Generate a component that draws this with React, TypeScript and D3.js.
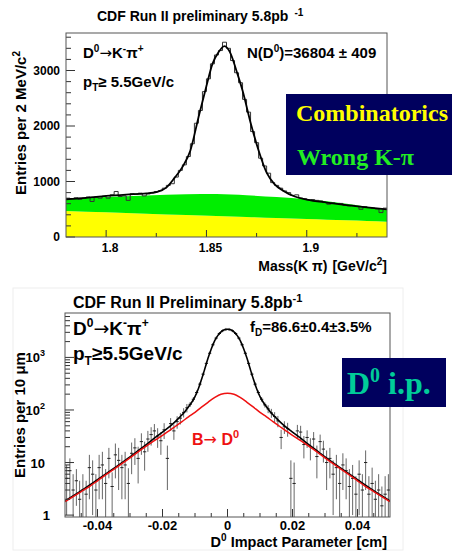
import React from 'react';
import * as d3 from 'd3';

// ---------------- Top panel: mass spectrum ----------------
const massBinStart = 1.78;
const massBinWidth = 0.002;
const massCounts = [
  700, 690, 705, 680, 700, 720, 640, 715, 700, 735,
  700, 760, 820, 730, 740, 660, 780, 770, 790, 740,
  775, 800, 820, 835, 880, 930, 960, 1080, 1200, 1300,
  1450, 1680, 2050, 2280, 2620, 2850, 3120, 3280, 3360, 3510,
  3400, 3180, 2960, 2780, 2480, 2250, 1900, 1700, 1420, 1280,
  1150, 980, 930, 880, 830, 800, 750, 760, 700, 690,
  670, 675, 660, 650, 620, 590, 615, 600, 605, 570,
  560, 570, 550, 500, 545, 530, 520, 505, 440, 520,
];
const massFitX = [1.78, 1.79, 1.80, 1.81, 1.82, 1.825, 1.83, 1.834, 1.838, 1.842, 1.846, 1.85, 1.853, 1.856, 1.859, 1.862, 1.865, 1.868, 1.872, 1.876, 1.88, 1.884, 1.888, 1.894, 1.90, 1.91, 1.92, 1.93, 1.94];
const massFitY = [680, 705, 740, 765, 785, 810, 890, 1060, 1260, 1560, 2150, 2720, 3120, 3330, 3440, 3310, 2990, 2640, 2060, 1560, 1160, 950, 840, 730, 675, 620, 575, 535, 498];
const bandX = [1.78, 1.80, 1.82, 1.84, 1.855, 1.87, 1.885, 1.90, 1.91, 1.92, 1.93, 1.94];
const wrongKpiTop = [683, 720, 750, 770, 775, 752, 720, 680, 645, 600, 545, 486];
const combinatoricsTop = [470, 446, 421, 397, 378, 360, 342, 324, 312, 300, 288, 276];
const massTicks = [1.8, 1.85, 1.9];
const massTickLabels = ['1.8', '1.85', '1.9'];
const massMinorTicks = [1.825, 1.875, 1.925];
const countTicks = [0, 1000, 2000, 3000];

// ---------------- Bottom panel: impact parameter ----------------
const ipBinStart = -0.05;
const ipBinWidth = 0.001;
const ipValues = [
  5, 7, 3, 4.5, 2, 3, 2.5, 8, 6, 3,
  8, 9, 4, 12, 3.5, 14, 11, 8, 9, 4,
  15, 19, 12, 25, 16, 28, 34, 40, 32, 26,
  42, 12, 55, 40, 60, 70, 90, 110,
  128, 160, 215, 310, 480, 770, 1200, 1740, 2330, 2850, 3220, 3420,
  3420, 3220, 2850, 2330, 1740, 1200, 770, 480, 310, 215, 160, 125,
  105, 88, 75, 62, 30, 48, 44, 5, 4, 40,
  38, 22, 30, 20, 28, 13, 25, 18, 10, 12,
  6, 8, 4, 9, 7, 3.5, 5, 2.5, 6, 3,
  10, 2.5, 4, 2, 3, 1.5, 2.5, 3,
];
const ipErrors = [
  4, 5, 3, 3, 2.5, 3, 2, 6, 5, 3,
  6, 7, 3.5, 7, 3, 9, 8, 6, 7, 3.8,
  9, 10, 8, 11, 9, 12, 13, 14, 13, 12,
  14, 9, 15, 13, 16, 17, 18, 20,
  14, 16, 20, 26, 38, 58, 85, 120, 160, 190, 210, 220,
  220, 210, 190, 160, 120, 85, 58, 38, 26, 20, 16, 14,
  18, 17, 16, 15, 12, 13, 13, 6, 6, 12,
  12, 10, 11, 9, 10, 8, 9, 8, 7, 7,
  5, 6, 4, 6, 5, 4, 4, 3, 5, 3,
  7, 3, 4, 2.5, 3, 2, 3, 3,
];
const ipFitX = [-0.05, -0.045, -0.04, -0.035, -0.03, -0.0275, -0.025, -0.0225, -0.02, -0.017, -0.015, -0.013, -0.012, -0.011, -0.010, -0.009, -0.008, -0.007, -0.006, -0.005, -0.004, -0.003, -0.002, -0.001, 0,
  0.001, 0.002, 0.003, 0.004, 0.005, 0.006, 0.007, 0.008, 0.009, 0.010, 0.011, 0.012, 0.013, 0.015, 0.017, 0.02, 0.0225, 0.025, 0.0275, 0.03, 0.035, 0.04, 0.045, 0.05];
const ipFitY = [1.85, 2.9, 4.7, 7.7, 12.8, 16.8, 22, 29, 38, 53, 70, 95, 115, 140, 180, 250, 380, 600, 960, 1450, 2050, 2600, 3050, 3350, 3445,
  3350, 3050, 2600, 2050, 1450, 960, 600, 380, 250, 180, 140, 115, 95, 70, 53, 38, 29, 22, 16.8, 12.8, 7.7, 4.7, 2.9, 1.85];
const bToDX = [-0.05, -0.0475, -0.045, -0.0425, -0.04, -0.0375, -0.035, -0.0325, -0.03, -0.0275, -0.025, -0.0225, -0.02, -0.018, -0.016, -0.014, -0.012, -0.01, -0.008, -0.006, -0.004, -0.002, 0,
  0.002, 0.004, 0.006, 0.008, 0.01, 0.012, 0.014, 0.016, 0.018, 0.02, 0.0225, 0.025, 0.0275, 0.03, 0.0325, 0.035, 0.0375, 0.04, 0.0425, 0.045, 0.0475, 0.05];
const bToDY = [1.8, 2.25, 2.8, 3.5, 4.5, 5.8, 7.4, 9.5, 12.3, 16, 20.5, 26, 33, 40, 49, 60, 74, 90, 113, 140, 172, 200, 208,
  200, 172, 140, 113, 90, 74, 60, 49, 40, 33, 26, 20.5, 16, 12.3, 9.5, 7.4, 5.8, 4.5, 3.5, 2.8, 2.25, 1.8];
const ipTicks = [-0.04, -0.02, 0, 0.02, 0.04];
const ipTickLabels = ['-0.04', '-0.02', '0', '0.02', '0.04'];
const ipMinorTicks = [-0.045, -0.035, -0.03, -0.025, -0.015, -0.01, -0.005, 0.005, 0.01, 0.015, 0.025, 0.03, 0.035, 0.045];
const logMajor = [1, 10, 100, 1000];
const logLabels = [['1', ''], ['10', ''], ['10', '2'], ['10', '3']];

const SANS = "'Liberation Sans', Arial, 'DejaVu Sans', sans-serif";
const SERIF = "'Liberation Serif', 'Times New Roman', serif";
const ARROW = "'DejaVu Sans', sans-serif";

function TopPanel() {
  const L = 66, R = 387, T = 33, B = 237;
  const x = d3.scaleLinear().domain([1.78, 1.94]).range([L, R]);
  const y = d3.scaleLinear().domain([0, 3676]).range([B, T]);
  const edges = massCounts.map((_, i) => massBinStart + i * massBinWidth);
  const stepPts: [number, number][] = massCounts.map((c, i) => [x(edges[i]), y(c)]);
  stepPts.push([x(massBinStart + massCounts.length * massBinWidth), y(massCounts[massCounts.length - 1])]);
  const step = d3.line().curve(d3.curveStepAfter)(stepPts) || '';
  const fit = d3.line<number>().x((_, i) => x(massFitX[i])).y((v) => y(v)).curve(d3.curveMonotoneX)(massFitY) || '';
  const yellow = d3.area<number>().x((_, i) => x(bandX[i])).y0(y(0)).y1((v) => y(v)).curve(d3.curveMonotoneX)(combinatoricsTop) || '';
  const green = d3.area<number>().x((_, i) => x(bandX[i])).y0((_, i) => y(combinatoricsTop[i])).y1((v) => y(v)).curve(d3.curveMonotoneX)(wrongKpiTop) || '';
  const minorY = d3.range(200, 3676, 200).filter((v) => v % 1000 !== 0);
  return (
    <g>
      <defs>
        <clipPath id="clipTop"><rect x={L} y={T} width={R - L} height={B - T} /></clipPath>
      </defs>
      <rect x={L} y={T} width={R - L} height={B - T} fill="#fff" />
      <g clipPath="url(#clipTop)">
        <path d={yellow} fill="#ffff00" />
        <path d={green} fill="#00ee00" />
        <path d={step} fill="none" stroke="#333" strokeWidth={1} />
        <path d={fit} fill="none" stroke="#000" strokeWidth={1.8} />
      </g>
      {countTicks.map((t) => (
        <line key={'yt' + t} x1={L} x2={L + 9} y1={y(t)} y2={y(t)} stroke="#333" />
      ))}
      {minorY.map((t) => (
        <line key={'ym' + t} x1={L} x2={L + 5} y1={y(t)} y2={y(t)} stroke="#333" />
      ))}
      {massTicks.map((t) => (
        <line key={'xt' + t} x1={x(t)} x2={x(t)} y1={B} y2={B - 7} stroke="#333" />
      ))}
      {massMinorTicks.map((t) => (
        <line key={'xm' + t} x1={x(t)} x2={x(t)} y1={B} y2={B - 4} stroke="#333" />
      ))}
      <rect x={L} y={T} width={R - L} height={B - T} fill="none" stroke="#555" strokeWidth={1} />
      {countTicks.map((t) => (
        <text key={'yl' + t} x={60} y={y(t) + 4} textAnchor="end" fontSize={12} fontWeight="bold" fontFamily={SANS}>{t}</text>
      ))}
      {massTicks.map((t, i) => (
        <text key={'xl' + t} x={x(t) + 4} y={252} textAnchor="middle" fontSize={12} fontWeight="bold" fontFamily={SANS}>{massTickLabels[i]}</text>
      ))}
      <text x={97} y={21} fontSize={14} fontWeight="bold" fontFamily={SANS}>
        CDF Run II preliminary 5.8pb<tspan dx={6} dy={-5} fontSize={10}>-1</tspan>
      </text>
      <text fontSize={15} fontWeight="bold" fontFamily={SANS} x={83} y={58}>
        D<tspan dy={-6} fontSize={10}>0</tspan><tspan dy={6} fontFamily={ARROW} fontWeight="normal">→</tspan><tspan>K</tspan><tspan dy={-6} fontSize={10}>-</tspan><tspan dy={6}>π</tspan><tspan dy={-6} fontSize={10}>+</tspan>
      </text>
      <text fontSize={15} fontWeight="bold" fontFamily={SANS} x={83} y={87}>
        p<tspan dy={4} fontSize={10}>T</tspan><tspan dy={-4}>≥ 5.5GeV/c</tspan>
      </text>
      <text fontSize={15} fontWeight="bold" fontFamily={SANS} x={247} y={58}>
        N(D<tspan dy={-6} fontSize={10}>0</tspan><tspan dy={6}>)=36804 ± 409</tspan>
      </text>
      <text transform="translate(26,195) rotate(-90)" fontSize={15} fontWeight="bold" fontFamily={SANS}>
        Entries per 2 MeV/c<tspan dy={-6} fontSize={10}>2</tspan>
      </text>
      <text x={387} y={271} textAnchor="end" fontSize={14} fontWeight="bold" fontFamily={SANS}>
        Mass(K π)<tspan dx={5}>[GeV/c</tspan><tspan dy={-6} fontSize={10}>2</tspan><tspan dy={6}>]</tspan>
      </text>
      <rect x={286} y={94} width={166} height={81} fill="#00005e" />
      <text x={296} y={121} fontSize={24} fontWeight="bold" fontFamily={SERIF} fill="#ffff00">Combinatorics</text>
      <text x={297} y={165} fontSize={24} fontWeight="bold" fontFamily={SERIF} fill="#22ee22">Wrong K-π</text>
    </g>
  );
}

function BottomPanel() {
  const L = 65, R = 390, T = 313, B = 517;
  const x = d3.scaleLinear().domain([-0.05, 0.05]).range([L, R]);
  const y = d3.scaleLog().domain([0.92, 7000]).range([B, T]);
  const fit = d3.line<number>().x((_, i) => x(ipFitX[i])).y((v) => y(v)).curve(d3.curveMonotoneX)(ipFitY) || '';
  const red = d3.line<number>().x((_, i) => x(bToDX[i])).y((v) => y(v)).curve(d3.curveMonotoneX)(bToDY) || '';
  const minorY: number[] = [];
  [1, 10, 100, 1000].forEach((d) => {
    for (let k = 2; k <= 9; k++) if (d * k < 7000) minorY.push(d * k);
  });
  const clampY = (v: number) => (v <= 0.92 ? B : Math.max(T, y(v)));
  return (
    <g>
      <defs>
        <clipPath id="clipBot"><rect x={L} y={T} width={R - L} height={B - T} /></clipPath>
      </defs>
      <rect x={13} y={288} width={390} height={262} fill="none" stroke="#eee" />
      <rect x={L} y={T} width={R - L} height={B - T} fill="#fff" />
      <g clipPath="url(#clipBot)">
        {ipValues.map((v, i) => {
          const c = ipBinStart + (i + 0.5) * ipBinWidth;
          const e = ipErrors[i];
          const cx = x(c);
          return (
            <g key={'p' + i}>
              <line x1={cx} x2={cx} y1={clampY(v + e)} y2={clampY(v - e)} stroke="#666" strokeWidth={1} />
              <line x1={x(c - ipBinWidth / 2)} x2={x(c + ipBinWidth / 2)} y1={y(v)} y2={y(v)} stroke="#222" strokeWidth={1} />
            </g>
          );
        })}
        <path d={fit} fill="none" stroke="#000" strokeWidth={1.6} />
        <path d={red} fill="none" stroke="#ee1111" strokeWidth={1.5} />
      </g>
      {logMajor.map((t) => (
        <line key={'yt' + t} x1={L} x2={L + 9} y1={y(t)} y2={y(t)} stroke="#333" />
      ))}
      {minorY.map((t) => (
        <line key={'ym' + t} x1={L} x2={L + 5} y1={y(t)} y2={y(t)} stroke="#333" />
      ))}
      {ipTicks.map((t) => (
        <line key={'xt' + t} x1={x(t)} x2={x(t)} y1={B} y2={B - 8} stroke="#333" />
      ))}
      {ipMinorTicks.map((t) => (
        <line key={'xm' + t} x1={x(t)} x2={x(t)} y1={B} y2={B - 4} stroke="#333" />
      ))}
      <rect x={L} y={T} width={R - L} height={B - T} fill="none" stroke="#555" strokeWidth={1} />
      {logMajor.map((t, i) => (
        <text key={'yl' + t} x={logLabels[i][1] ? 45 : (t === 1 ? 50 : 45)} y={y(t) + 5} textAnchor="end" fontSize={13} fontWeight="bold" fontFamily={SANS}>
          {logLabels[i][0]}{logLabels[i][1] ? <tspan dy={-6} fontSize={9}>{logLabels[i][1]}</tspan> : null}
        </text>
      ))}
      {ipTicks.map((t, i) => (
        <text key={'xl' + t} x={x(t)} y={530} textAnchor="middle" fontSize={13} fontWeight="bold" fontFamily={SANS}>{ipTickLabels[i]}</text>
      ))}
      <text x={73} y={308} fontSize={16} fontWeight="bold" fontFamily={SANS}>
        CDF Run II Preliminary 5.8pb<tspan dy={-6} fontSize={11}>-1</tspan>
      </text>
      <text fontSize={19} fontWeight="bold" fontFamily={SANS} x={73} y={335}>
        D<tspan dy={-8} fontSize={12}>0</tspan><tspan dy={8} fontFamily={ARROW} fontWeight="normal">→</tspan><tspan>K</tspan><tspan dy={-8} fontSize={12}>-</tspan><tspan dy={8}>π</tspan><tspan dy={-8} fontSize={12}>+</tspan>
      </text>
      <text fontSize={19} fontWeight="bold" fontFamily={SANS} x={73} y={360}>
        p<tspan dy={5} fontSize={12}>T</tspan><tspan dy={-5}>≥5.5GeV/c</tspan>
      </text>
      <text fontSize={15} fontWeight="bold" fontFamily={SANS} x={250} y={332}>
        f<tspan dy={4} fontSize={10}>D</tspan><tspan dy={-4}>=86.6±0.4±3.5%</tspan>
      </text>
      <text fontSize={16} fontWeight="bold" fontFamily={SANS} x={192} y={445} fill="#ee1111">
        B<tspan fontFamily={ARROW} fontWeight="normal">→</tspan> D<tspan dy={-7} fontSize={11}>0</tspan>
      </text>
      <text transform="translate(25,478) rotate(-90)" fontSize={15} fontWeight="bold" fontFamily={SANS}>
        Entries per 10 μm
      </text>
      <text x={387} y={547} textAnchor="end" fontSize={14.5} fontWeight="bold" fontFamily={SANS}>
        D<tspan dy={-6} fontSize={10}>0</tspan><tspan dy={6}> Impact Parameter [cm]</tspan>
      </text>
      <rect x={342} y={358} width={104} height={49} fill="#00005e" />
      <text x={347} y={394} fontSize={32} fontWeight="bold" fontFamily={SERIF} fill="#00cc99">
        D<tspan dy={-12} fontSize={20}>0</tspan><tspan dy={12}> i.p.</tspan>
      </text>
    </g>
  );
}

export default function App() {
  return (
    <svg width={452} height={551} viewBox="0 0 452 551" style={{ position: 'absolute', left: 0, top: 0, background: '#fff' }}>
      <rect width={452} height={551} fill="#fff" />
      <TopPanel />
      <BottomPanel />
    </svg>
  );
}
